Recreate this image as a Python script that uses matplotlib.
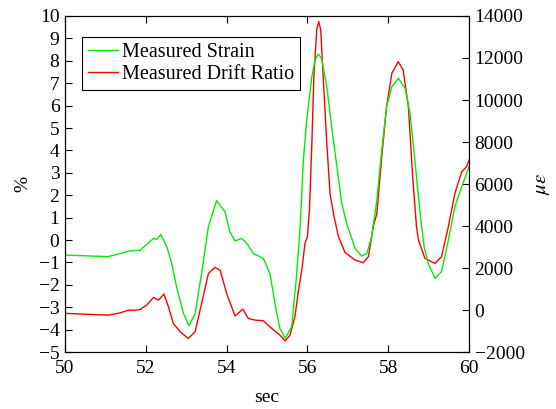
# Measured strain and drift ratio vs time

import numpy as np
import matplotlib.pyplot as plt

plt.rcParams["font.family"] = ["Liberation Serif", "DejaVu Serif"]
plt.rcParams["mathtext.fontset"] = "stix"

# Measured drift ratio (%), left axis
drift_t = [50.0, 51.07, 51.36, 51.57, 51.73, 51.86, 52.02, 52.19, 52.31, 52.45,
           52.56, 52.68, 52.85, 53.05, 53.22, 53.38, 53.55, 53.71, 53.84, 54.0,
           54.21, 54.4, 54.54, 54.7, 54.91, 55.07, 55.32, 55.45, 55.57, 55.69,
           55.78, 55.86, 55.94, 56.0, 56.05, 56.11, 56.16, 56.23, 56.28, 56.33,
           56.39, 56.48, 56.56, 56.66, 56.77, 56.93, 57.18, 57.38, 57.51, 57.63,
           57.72, 57.84, 57.96, 58.09, 58.25, 58.37, 58.5, 58.6, 58.7, 58.75,
           58.91, 59.16, 59.32, 59.49, 59.65, 59.82, 59.94, 60.0]
drift = [-3.27, -3.35, -3.25, -3.13, -3.13, -3.1, -2.9, -2.56, -2.68, -2.41,
         -2.98, -3.72, -4.09, -4.39, -4.09, -2.83, -1.49, -1.22, -1.34, -2.38,
         -3.39, -3.08, -3.5, -3.57, -3.6, -3.87, -4.24, -4.5, -4.24, -3.42,
         -2.23, -1.34, -0.15, 0.15, 1.34, 4.32, 7.29, 9.38, 9.75, 9.38,
         7.29, 4.32, 2.08, 1.04, 0.15, -0.55, -0.89, -1.01, -0.74, 0.6,
         1.19, 3.72, 5.95, 7.44, 7.96, 7.59, 5.95, 2.98, 0.6, 0.0,
         -0.82, -1.04, -0.74, 0.6, 2.08, 3.05, 3.27, 3.57]

# Measured strain (micro-strain), right axis
strain_t = [50.0, 51.07, 51.61, 51.86, 52.19, 52.27, 52.37, 52.52, 52.64, 52.76,
            52.93, 53.07, 53.22, 53.38, 53.55, 53.75, 53.96, 54.08, 54.21, 54.37,
            54.5, 54.66, 54.91, 55.07, 55.24, 55.32, 55.45, 55.61, 55.73, 55.82,
            55.9, 55.98, 56.11, 56.19, 56.27, 56.35, 56.48, 56.6, 56.73, 56.85,
            56.97, 57.18, 57.34, 57.47, 57.59, 57.72, 57.84, 57.96, 58.09, 58.25,
            58.42, 58.54, 58.66, 58.79, 58.89, 58.99, 59.16, 59.32, 59.49, 59.65,
            59.82, 60.0]
strain = [2620, 2545, 2820, 2855, 3410, 3365, 3600, 3010, 2225, 1115,
          -155, -740, -155, 1745, 3975, 5210, 4680, 3725, 3290, 3410,
          3175, 2695, 2460, 1745, -155, -870, -1350, -795, 1585, 3975,
          7140, 9000, 11110, 11905, 12190, 11980, 10630, 8730, 6825, 5080,
          4135, 2940, 2575, 2690, 3495, 5245, 7620, 9680, 10630, 11035,
          10555, 9370, 7140, 4600, 3015, 2225, 1510, 1830, 3335, 4925,
          5870, 6820]

fig = plt.figure(figsize=(5.56, 4.09), dpi=100)
ax = fig.add_axes([0.117, 0.139, 0.7265, 0.822])
ax2 = ax.twinx()

l2, = ax.plot(drift_t, drift, color="red", linewidth=1.0)
l1, = ax2.plot(strain_t, strain, color="#00ee00", linewidth=1.0)

ax.set_xlim(50, 60)
ax.set_ylim(-5, 10)
ax.set_xticks(np.arange(50, 61, 2))
ax.set_yticks(np.arange(-5, 11, 1))
ax2.set_ylim(-2000, 14000)
ax2.set_yticks(np.arange(-2000, 14001, 2000))

ax.tick_params(direction="in", labelsize=14, top=True, length=5)
ax.tick_params(axis="x", pad=6)
ax.tick_params(axis="y", pad=4)
ax2.tick_params(direction="in", labelsize=14, length=5, pad=4)

ax.set_xlabel("sec", fontsize=14, labelpad=8)
ax.set_ylabel("%", fontsize=14, labelpad=5)
ax2.set_ylabel(r"$\mu\epsilon$", fontsize=15, labelpad=6)

leg = ax2.legend([l1, l2], ["Measured Strain", "Measured Drift Ratio"],
                 loc="upper left", bbox_to_anchor=(0.042, 0.9375),
                 borderaxespad=0, fontsize=14.5,
                 handlelength=1.5, handletextpad=0.2, borderpad=0.3,
                 labelspacing=0.15, fancybox=False, framealpha=1)
leg.get_frame().set_edgecolor("black")
leg.get_frame().set_linewidth(0.8)

plt.savefig("out.png", dpi=100)
